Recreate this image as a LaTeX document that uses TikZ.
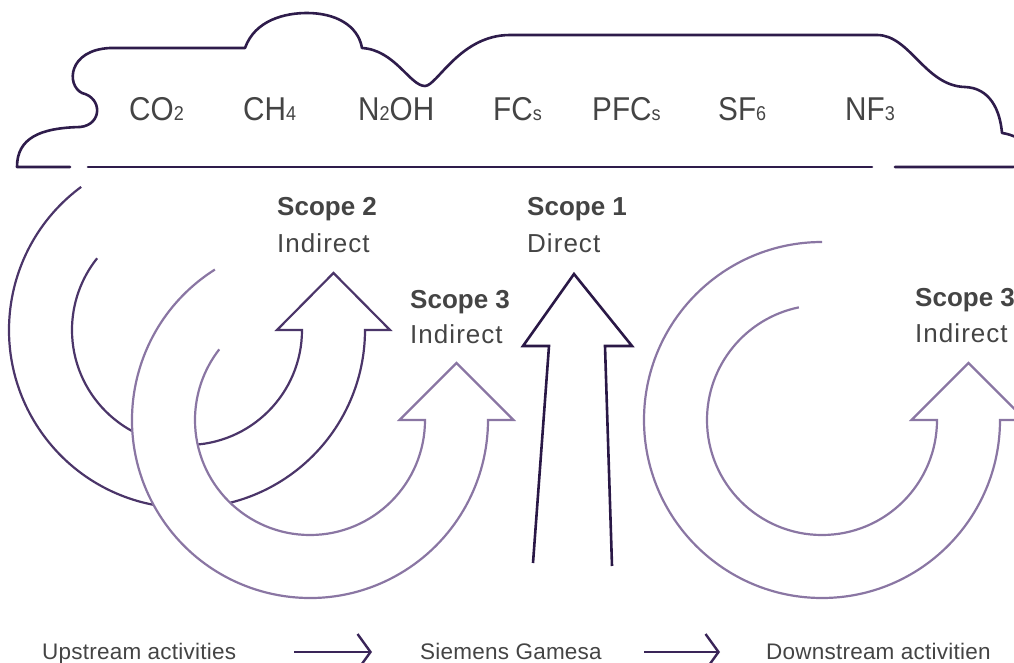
\documentclass[tikz,border=0pt]{standalone}
\usepackage{fontspec}
\setmainfont{Liberation Sans}
\newfontfamily\gasfont[FakeStretch=0.9]{Liberation Sans}
\newfontfamily\labfont[LetterSpace=4]{Liberation Sans}
\newfontfamily\footfont[LetterSpace=1]{Liberation Sans}
\usetikzlibrary{arrows.meta}
\definecolor{cloudc}{HTML}{2E1C4B}
\definecolor{scopetwoc}{HTML}{4B3569}
\definecolor{scopethreec}{HTML}{8A76A3}
\definecolor{scopeonec}{HTML}{2A1846}
\definecolor{flowc}{HTML}{3A2558}
\definecolor{textc}{HTML}{444444}
% smaller digits/letters sitting on the baseline
\newcommand\gsub[1]{{\fontsize{20}{20}\selectfont #1}}

\begin{document}
\begin{tikzpicture}[x=1pt,y=1pt,
  txt/.style={inner sep=0pt, anchor=base west, text=textc},
  gas/.style={txt, font=\gasfont\fontsize{33}{36}\selectfont},
  scopehd/.style={txt, font=\bfseries\fontsize{26}{30}\selectfont},
  scopesub/.style={txt, font=\labfont\fontsize{26}{30}\selectfont},
  foot/.style={txt, font=\footfont\fontsize{22.5}{26}\selectfont},
  cloudline/.style={draw=cloudc, line width=2.6pt, line cap=round, line join=round},
  twoband/.style={draw=scopetwoc, line width=2.2pt},
  threeband/.style={draw=scopethreec, line width=2.2pt},
  oneshaft/.style={draw=scopeonec, line width=2.6pt},
  flow/.style={draw=flowc, line width=2.4pt, -{Straight Barb[length=13pt,width=36pt,line width=2.4pt]}},
]
\useasboundingbox (0,-663) rectangle (1014,0);
\clip (0,-663) rectangle (1014,0);

% cloud outline with two small gaps in its base line
\draw[cloudline] (70,-167) -- (17,-167)
  .. controls (17,-138) and (40,-128) .. (80,-127)
  .. controls (102,-125) and (103,-98) .. (82,-93)
  .. controls (66,-85) and (68,-50) .. (110,-48)
  -- (245,-48)
  .. controls (255,-20) and (285,-13) .. (307,-13)
  .. controls (335,-13) and (358,-25) .. (362,-48)
  .. controls (395,-50) and (410,-86) .. (425,-86)
  .. controls (437,-86) and (460,-35) .. (510,-35)
  -- (877,-35)
  .. controls (910,-35) and (925,-86) .. (965,-87)
  .. controls (990,-88) and (1000,-110) .. (1002,-133)
  .. controls (1010,-134) and (1030,-140) .. (1030,-155)
  .. controls (1030,-164) and (1022,-167) .. (1012,-167)
  -- (895,-167);
\draw[cloudline] (872,-167) -- (88,-167);

% gases
\node[gas] (co2)  at (129,-121) {CO\gsub{2}};
\node[gas] (ch4)  at (243,-121) {CH\gsub{4}};
\node[gas] (n2oh) at (358,-121) {N\gsub{2}OH};
\node[gas] (fcs)  at (493,-121) {FC\gsub{s}};
\node[gas] (pfcs) at (592,-121) {PFC\gsub{s}};
\node[gas] (sf6)  at (718,-121) {SF\gsub{6}};
\node[gas] (nf3)  at (845,-121) {NF\gsub{3}};

% scope 2: curved band arrow
\coordinate (c2) at (187,-330);
\draw[twoband] (c2) ++(126.5:178) arc[start angle=126.5,end angle=360,radius=178]
  -- ++(25,0) -- ++(-56.5,57) -- ++(-56.5,-57) -- ++(25,0)
  arc[start angle=360,end angle=141.4,radius=115];

% scope 3 upstream: curved band arrow lying over scope 2
\coordinate (c3) at (310,-420);
\fill[white] (c3) ++(122.3:178) arc[start angle=122.3,end angle=360,radius=178]
  -- ++(25.5,0) -- ++(-57,57) -- ++(-57,-57) -- ++(25.5,0)
  arc[start angle=360,end angle=142.1,radius=115] -- cycle;
\draw[threeband] (c3) ++(122.3:178) arc[start angle=122.3,end angle=360,radius=178]
  -- ++(25.5,0) -- ++(-57,57) -- ++(-57,-57) -- ++(25.5,0)
  arc[start angle=360,end angle=142.1,radius=115];

% scope 3 downstream
\coordinate (c4) at (822,-420);
\draw[threeband] (c4) ++(90:178) arc[start angle=90,end angle=360,radius=178]
  -- ++(25.5,0) -- ++(-57,57) -- ++(-57,-57) -- ++(25.5,0)
  arc[start angle=360,end angle=101.6,radius=115];

% scope 1: straight arrow
\draw[oneshaft] (533,-563) -- (549,-346) -- (523,-346) -- (574,-274)
  -- (632,-346) -- (605,-346) -- (612,-566);

% scope labels
\node[scopehd]  (s2)   at (277,-215) {Scope 2};
\node[scopesub] (s2i)  at (277,-252) {Indirect};
\node[scopehd]  (s1)   at (527,-215) {Scope 1};
\node[scopesub] (s1d)  at (527,-252) {Direct};
\node[scopehd]  (s3a)  at (410,-308) {Scope 3};
\node[scopesub] (s3ai) at (410,-343) {Indirect};
\node[scopehd]  (s3b)  at (915,-306) {Scope 3};
\node[scopesub] (s3bi) at (915,-342) {Indirect};

% value chain along the bottom
\node[foot] (up) at (42,-659)  {Upstream activities};
\node[foot] (sg) at (420,-659) {Siemens Gamesa};
\node[foot] (dn) at (766,-659) {Downstream activitien};
\draw[flow] ([xshift=-126pt,yshift=7pt]sg.base west) -- ([xshift=-48pt,yshift=7pt]sg.base west);
\draw[flow] ([xshift=-122pt,yshift=7pt]dn.base west) -- ([xshift=-46pt,yshift=7pt]dn.base west);
\end{tikzpicture}
\end{document}
